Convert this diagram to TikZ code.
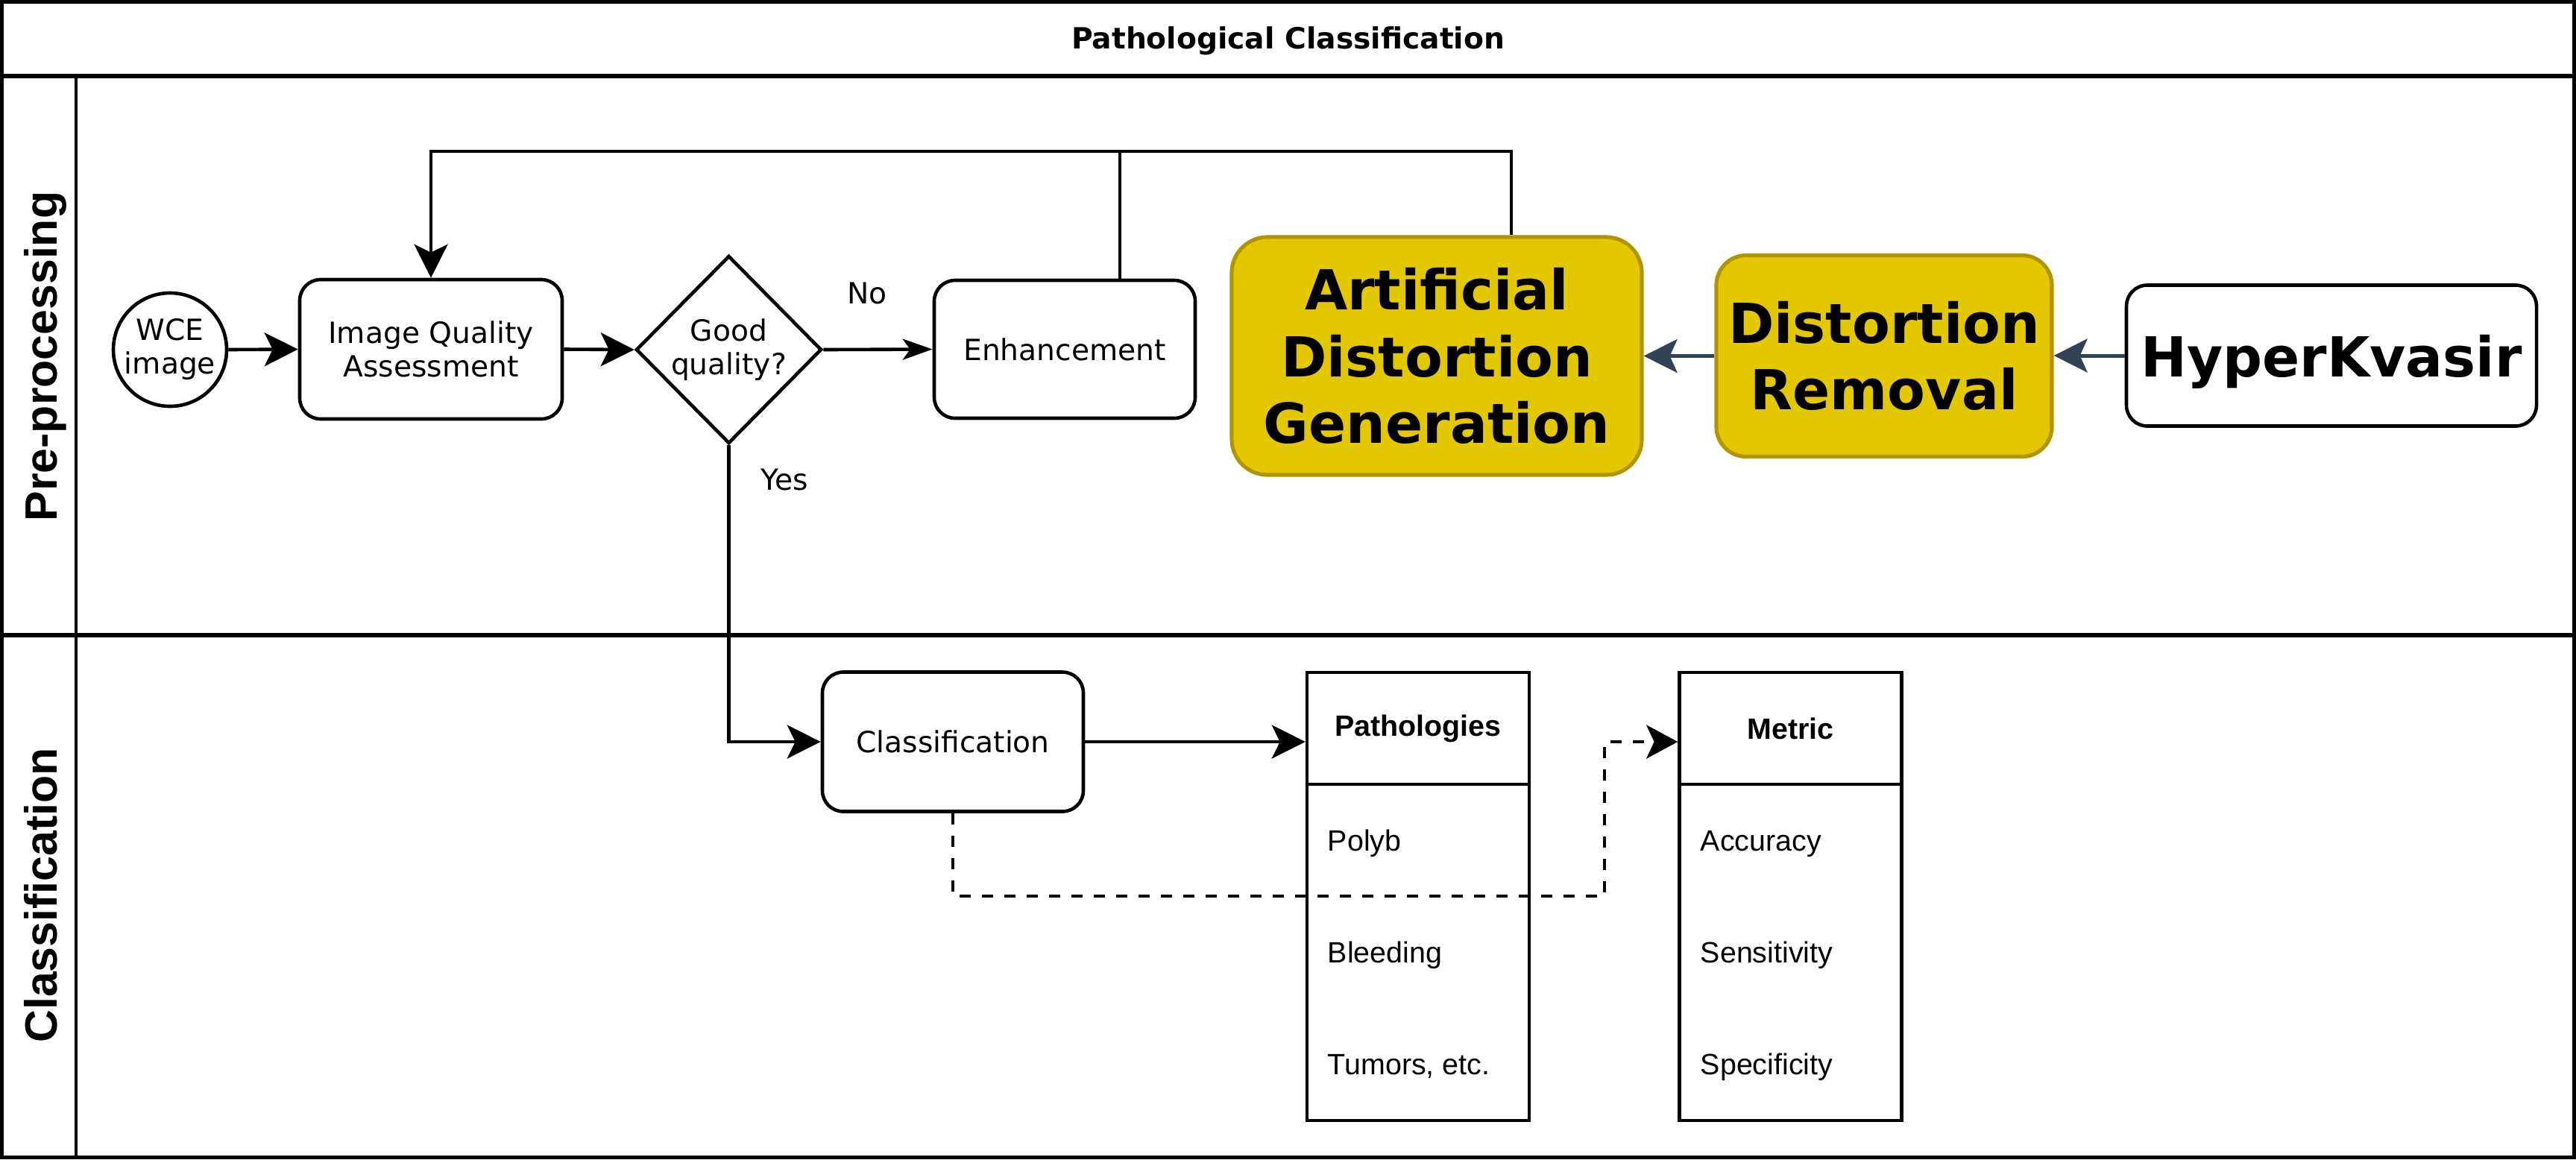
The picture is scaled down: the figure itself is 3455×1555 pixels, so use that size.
\documentclass[tikz,border=0pt]{standalone}
\usepackage{fontspec}
\setmainfont{DejaVu Sans}
\newfontfamily\helv{Liberation Sans}
\usetikzlibrary{arrows.meta,shapes.geometric}
\definecolor{ylw}{HTML}{E3C800}
\definecolor{ylwd}{HTML}{B09500}
\definecolor{slate}{HTML}{314354}
\begin{document}
\begin{tikzpicture}[x=0.25pt, y=-0.25pt,
  frame/.style={line width=1.3pt},
  flowtxt/.style={font=\fontsize{9.8pt}{11.25pt}\selectfont, align=center},
  procbox/.style={draw, line width=1.15pt, rounded corners=7pt, fill=white, inner sep=0pt, flowtxt},
  yelbox/.style={draw=ylwd, fill=ylw, line width=1.3pt, inner sep=0pt, align=center,
    font=\fontsize{18.5pt}{22.4pt}\selectfont\bfseries},
  tblcell/.style={draw, line width=1.15pt, fill=white, inner sep=0pt, minimum width=74.5pt},
  tblhead/.style={font=\fontsize{9.85pt}{11pt}\selectfont\helv\bfseries},
  tblitem/.style={anchor=base west, inner sep=0pt, font=\fontsize{9.85pt}{11pt}\selectfont\helv},
  lanelbl/.style={rotate=90, anchor=base, inner sep=0pt, font=\fontsize{15.2pt}{18pt}\selectfont\helv\bfseries},
  edgelbl/.style={inner sep=0pt, flowtxt},
  bigarr/.style={line width=1.15pt, -{Stealth[length=11.25pt, width=11.25pt, inset=2.75pt]}},
  smallarr/.style={line width=1.15pt, -{Stealth[length=10pt, width=7pt, inset=2.5pt]}},
  slatearr/.style={draw=slate, line width=1.25pt, -{Stealth[length=11.25pt, width=11.25pt, inset=2.5pt]}},
  dasharr/.style={line width=1.15pt, dash pattern=on 3.75pt off 3.75pt, -{Stealth[length=10.5pt, width=11.25pt, inset=2.6pt]}}
]
\useasboundingbox (0,0) rectangle (3455,1555);
% pool and lanes
\draw[frame] (2.6,2.6) rectangle (3452.4,1552.4);
\draw[frame] (0,102) -- (3455,102);
\draw[frame] (0,852) -- (3455,852);
\draw[line width=1.1pt] (102,102) -- (102,1555);
\node[anchor=base, inner sep=0pt, font=\fontsize{9.8pt}{11pt}\selectfont\bfseries] (ttl) at (1727.5,65) {Pathological Classification};
\node[lanelbl] (lpre) at (77,478) {Pre-processing};
\node[lanelbl] (lcls) at (77,1201) {Classification};

% pre-processing lane
\node[circle, draw, line width=1.15pt, fill=white, minimum size=38pt, inner sep=0pt, flowtxt] (wce) at (228,469) {WCE\\image};
\node[procbox, minimum width=88pt, minimum height=46.75pt] (iqa) at (578,468.5) {Image Quality\\Assessment};
\node[diamond, draw, line width=1.15pt, fill=white, aspect=1, minimum width=62.25pt, minimum height=63pt, inner sep=0pt, flowtxt] (dia) at (977.5,469) {Good\\quality?};
\node[procbox, minimum width=87.5pt, minimum height=46.25pt] (enh) at (1428,468.5) {Enhancement};
\node[yelbox, minimum width=137.5pt, minimum height=79.75pt, rounded corners=12pt] (adg) at (1927,477.5) {Artificial\\Distortion\\Generation};
\node[yelbox, minimum width=112.5pt, minimum height=67.5pt, rounded corners=10pt] (dr) at (2527,477.5) {Distortion\\Removal};
\node[procbox, minimum width=137.5pt, minimum height=47.25pt, font=\fontsize{18.5pt}{22.4pt}\selectfont\bfseries, text depth=0pt] (hk) at (3127,477) {HyperKvasir};

% classification lane
\node[procbox, minimum width=87.5pt, minimum height=46.75pt] (cls) at (1278,995) {Classification};
\node[tblcell, minimum height=37.5pt, tblhead] (pathh) at (1902,977) {Pathologies};
\node[tblcell, minimum height=112.75pt] (pathb) at (1902,1277.5) {};
\node[tblitem] (p1) at (1780,1141) {Polyb};
\node[tblitem] (p2) at (1780,1291) {Bleeding};
\node[tblitem] (p3) at (1780,1441) {Tumors, etc.};
\node[tblcell, minimum height=37.5pt, tblhead] (meth) at (2401.5,977) {Metric};
\node[tblcell, minimum height=112.75pt] (metb) at (2401.5,1277.5) {};
\node[tblitem] (m1) at (2280,1141) {Accuracy};
\node[tblitem] (m2) at (2280,1291) {Sensitivity};
\node[tblitem] (m3) at (2280,1441) {Specificity};

% connectors
\draw[bigarr] (wce.east) -- (iqa.west);
\draw[bigarr] (iqa.east) -- (dia.west);
\draw[smallarr] (dia.east) -- (enh.west);
\node[edgelbl] (no) at (1163,393) {No};
\draw[bigarr] (dia.south) |- (cls.west);
\node[edgelbl] (yes) at (1052,643) {Yes};
\coordinate (fb) at (578,203);
\draw[line width=1.15pt] ([xshift=25pt]adg.north) |- (fb);
\draw[bigarr] ([xshift=18.5pt]enh.north) |- (fb) -- (iqa.north);
\draw[slatearr] (dr.west) -- (dr.west -| adg.east);
\draw[slatearr] (hk.west) -- (hk.west -| dr.east);
\draw[bigarr] (cls.east) -- (cls.east -| pathh.west);
\coordinate (dk) at (2152,1202);
\draw[dasharr] (cls.south) |- (dk) |- (cls.east -| meth.west);
\end{tikzpicture}
\end{document}
